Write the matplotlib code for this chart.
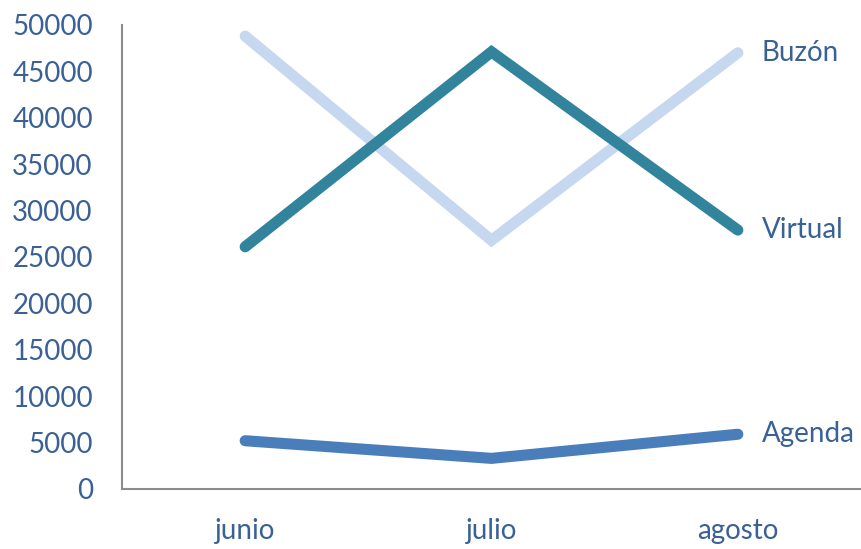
import matplotlib
matplotlib.use('Agg')
from matplotlib import pyplot as plt

months = ['junio', 'julio', 'agosto']
buzon = [48800, 26800, 47000]
virtual = [26100, 47100, 27900]
agenda = [5200, 3300, 5900]

text_color = '#3A6195'
plt.rcParams['font.family'] = ['Lato', 'DejaVu Sans']

fig = plt.figure(figsize=(8.61, 5.49), dpi=100)
ax = fig.add_axes([0.1417, 0.1093, 0.8583, 0.8452])

x = range(len(months))
series = [
	('Buzón', buzon, '#C6D7F0'),
	('Virtual', virtual, '#31849B'),
	('Agenda', agenda, '#4A7EBB'),
]
for name, vals, color in series:
	ax.plot(x, vals, color=color, linewidth=8, solid_capstyle='round',
			solid_joinstyle='miter', clip_on=False)
	ax.annotate(name, (x[-1], vals[-1]), xytext=(17, 0), textcoords='offset points',
				ha='left', va='center', fontsize=20, color=text_color,
				annotation_clip=False)

ax.set_xlim(-0.5, 2.5)
ax.set_ylim(0, 50000)
ax.set_yticks(range(0, 50001, 5000))
ax.set_xticks(list(x))
ax.set_xticklabels(months)
ax.tick_params(axis='both', length=0, labelsize=20, labelcolor=text_color)
ax.tick_params(axis='y', pad=21)
ax.tick_params(axis='x', pad=21)
for side in ['top', 'right']:
	ax.spines[side].set_visible(False)
for side in ['left', 'bottom']:
	ax.spines[side].set_color('#8C8C8C')
	ax.spines[side].set_linewidth(1.5)

plt.savefig('out.png')
